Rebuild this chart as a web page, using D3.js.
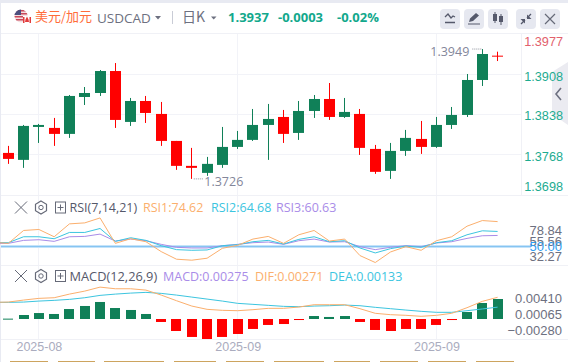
<!DOCTYPE html>
<html>
<head>
<meta charset="utf-8">
<script src="https://cdn.jsdelivr.net/npm/d3@7"></script>
<style>
  html, body { margin: 0; padding: 0; background: #fff; overflow: hidden; }
  svg { display: block; font-family: "Open Sans", "Noto Sans CJK SC", sans-serif; }
  .axis path, .axis line { display: none; }
</style>
</head>
<body>
<div id="container"></div>
<script>
// candles, oldest first. green = close above open
const open  = [1.37706,1.37584,1.38161,1.38144,1.38039,1.38686,1.38756,1.39141,1.38249,1.38616,1.38389,1.37916,1.37479,1.37356,1.37496,1.37811,1.37934,1.38196,1.38336,1.38056,1.38441,1.38651,1.38336,1.38389,1.37776,1.37391,1.37741,1.37951,1.37811,1.38196,1.38371,1.38984,1.39410]
const high  = [1.37829,1.38196,1.38214,1.38319,1.38721,1.38861,1.39159,1.39281,1.38669,1.38704,1.38599,1.37916,1.37794,1.37636,1.38161,1.38091,1.38476,1.38564,1.38459,1.38616,1.38721,1.38931,1.38669,1.38476,1.37846,1.37881,1.38109,1.38266,1.38336,1.38511,1.39089,1.39526,1.39480]
const low   = [1.37514,1.37444,1.37881,1.37829,1.37969,1.38546,1.38704,1.38144,1.38179,1.38231,1.37829,1.37409,1.37251,1.37304,1.37444,1.37776,1.37916,1.37584,1.37881,1.37934,1.38319,1.38284,1.38319,1.37671,1.37339,1.37251,1.37654,1.37689,1.37794,1.38126,1.38336,1.38879,1.39316]
const close = [1.37601,1.38179,1.38196,1.38039,1.38704,1.38756,1.39141,1.38284,1.38616,1.38406,1.37916,1.37479,1.37444,1.37514,1.37811,1.37934,1.38196,1.38301,1.38039,1.38441,1.38651,1.38336,1.38424,1.37794,1.37374,1.37741,1.37969,1.37811,1.38196,1.38371,1.38984,1.39439,1.39398]

// rsi and macd lines carry one extra value in front, the day left of the frame
const rsi1 = [53.67,52.67,65.67,66.67,59.33,72.33,73.33,78.33,52.67,57.33,54.33,44.33,36.67,35.67,37.67,47.67,50.67,57,59.67,52.67,61.33,65.67,55,57,40.33,33.33,44,49.33,45.67,55.33,59.33,70,75.67,74.62]
const rsi2 = [53.67,53.33,59.33,59.33,57.33,63.67,63.67,67.67,54.67,58.33,55.67,50.33,46.33,45.67,46,50.33,51.33,54.33,55.67,52,56.67,59.33,54.33,55.33,48,43,47.33,50,48.67,53.33,55.33,61.33,65.33,64.68]
const rsi3 = [52.67,52.67,55.67,56.33,54.67,59.33,59.67,62,55,57,55.33,51.67,48.67,48,48,50.33,51.67,53.33,54,51.67,55.33,57,54,54.33,49.33,46.33,48.67,50.33,49.33,53,54.33,57.67,60.33,60.63]
const rsiRefs = [50]

const dif = [0.00200,0.00204,0.00232,0.00256,0.00265,0.00316,0.00358,0.00414,0.00391,0.00391,0.00372,0.00302,0.00223,0.00148,0.00102,0.00088,0.00083,0.00097,0.00116,0.00116,0.00134,0.00167,0.00167,0.00167,0.00111,0.00046,0.00027,0.00018,0.00004,0.00018,0.00046,0.00125,0.00214,0.00271]
const dea = [0.00200,0.00200,0.00204,0.00218,0.00228,0.00242,0.00265,0.00298,0.00316,0.00330,0.00340,0.00326,0.00302,0.00274,0.00246,0.00218,0.00186,0.00172,0.00158,0.00144,0.00139,0.00148,0.00153,0.00162,0.00153,0.00130,0.00111,0.00092,0.00074,0.00060,0.00060,0.00083,0.00107,0.00133]
const macd = [0.00005,0.00055,0.00082,0.00069,0.00137,0.00179,0.00234,0.00151,0.00124,0.00069,-0.00041,-0.00165,-0.00247,-0.00275,-0.00247,-0.00206,-0.00137,-0.00082,-0.00069,-0.00014,0.00041,0.00028,0.00041,-0.00041,-0.00151,-0.00165,-0.00137,-0.00137,-0.00082,-0.00014,0.00096,0.00220,0.00275]

// axis labels, these sit where the chart squeezed them and not on the value scale
const priceTicks = [1.3977,1.3908,1.3838,1.3768,1.3698]
const priceTickY = [41,76,115.7,156,186]
const rsiTicks = [78.84,55.56,50,32.27]
const rsiTickY = [230,241.7,246.7,256.7]
const macdTicks = [0.0041,0.00065,-0.0028]
const macdTickY = [298.3,314.3,330.3]
const dateIndex = [2,15,28]
const dateLabels = ['2025-08','2025-09','2025-09']

const green = '#108058', red = '#ff0000', teal = '#12a88c'
const orange = '#fbaf6d', cyan = '#3cc5df', purple = '#a98ce8'
const grid = '#f2f3f8', greyText = '#6d7080'

const svg = d3.select('#container').append('svg').attr('width', 568).attr('height', 362)
svg.append('rect').attr('width', 568).attr('height', 362).attr('fill', '#fff')

const x = d3.scaleLinear().domain([0, 32]).range([8.3, 497.6])
const y = d3.scaleLinear().domain([1.3768, 1.3908]).range([154.4, 74.5])
const yRsi = d3.scaleLinear().domain([50, 74.62]).range([246, 221.6])
const yDif = d3.scaleLinear().domain([0, 0.00271]).range([316.6, 297.3])
const yMacd = d3.scaleLinear().domain([0, 0.00275]).range([319, 299])

// page edge + panel rules
svg.append('rect').attr('width', 568).attr('height', 3).attr('fill', '#e8eaf2')
svg.append('rect').attr('width', 1).attr('height', 362).attr('fill', '#e8eaf2')

svg.selectAll('.vgrid').data(dateIndex).enter().append('rect')
  .attr('x', d => Math.floor(x(d))).attr('y', 34).attr('width', 1).attr('height', 305).attr('fill', grid)
svg.selectAll('.hgrid').data([1.3908, 1.3838, 1.3768]).enter().append('rect')
  .attr('x', 1).attr('y', d => Math.floor(y(d))).attr('width', 520).attr('height', 1).attr('fill', grid)
;[33, 195, 265, 339].forEach(r => {
  svg.append('rect').attr('x', 1).attr('y', r).attr('width', 567).attr('height', 1).attr('fill', '#f0f1f6')
})
svg.append('rect').attr('x', 521).attr('y', 34).attr('width', 1).attr('height', 161).attr('fill', '#f0f1f6')

// side handle, the price labels run over it
svg.append('path').attr('d', 'M568 62L552 72V114L568 125Z').attr('fill', '#ebebf1')
svg.append('path').attr('d', 'M561 88L556 94L561 100').attr('fill', 'none').attr('stroke', '#6d7080').attr('stroke-width', 1.6)

// candles
const candles = svg.selectAll('.candle').data(d3.range(open.length)).enter().append('g').attr('class', 'candle')
candles.append('rect')
  .attr('x', i => Math.floor(x(i)))
  .attr('y', i => y(high[i]))
  .attr('width', 1)
  .attr('height', i => y(low[i]) - y(high[i]))
  .attr('fill', i => close[i] >= open[i] ? green : red)
candles.append('rect')
  .attr('x', i => Math.round(x(i) - 5.5))
  .attr('y', i => y(Math.max(open[i], close[i])))
  .attr('width', 11)
  .attr('height', i => Math.max(1, Math.abs(y(open[i]) - y(close[i]))))
  .attr('fill', i => close[i] >= open[i] ? green : red)

// high / low markers
const lowIdx = d3.minIndex(low), highIdx = d3.maxIndex(high)
svg.append('line').attr('x1', x(lowIdx) + 2).attr('x2', x(lowIdx) + 11)
  .attr('y1', y(low[lowIdx])).attr('y2', y(low[lowIdx]))
  .attr('stroke', '#8d909c').attr('stroke-dasharray', '1,1')
svg.append('text').attr('x', x(lowIdx) + 12.5).attr('y', y(low[lowIdx]) + 7)
  .attr('font-size', 12.5).attr('fill', '#83869a').text('1.3726')
svg.append('line').attr('x1', x(highIdx) - 10).attr('x2', x(highIdx) - 1)
  .attr('y1', y(high[highIdx])).attr('y2', y(high[highIdx]))
  .attr('stroke', '#8d909c').attr('stroke-dasharray', '1,1')
svg.append('text').attr('x', x(highIdx) - 13).attr('y', y(high[highIdx]) + 7)
  .attr('text-anchor', 'end').attr('font-size', 12.5).attr('fill', '#83869a').text('1.3949')

// rsi panel
const lineX = (d, i) => x(i - 1)
const lineRsi = d3.line().x(lineX).y(d => yRsi(d))
rsiRefs.forEach(v => {
  svg.append('rect').attr('x', 1).attr('y', yRsi(v) - 1).attr('width', 530).attr('height', 3).attr('fill', '#c4e3f9')
  svg.append('rect').attr('x', 1).attr('y', yRsi(v)).attr('width', 530).attr('height', 1).attr('fill', '#86c4f2')
})
;[[rsi3, purple], [rsi2, cyan], [rsi1, orange]].forEach(s => {
  svg.append('path').attr('d', lineRsi(s[0])).attr('fill', 'none').attr('stroke', s[1]).attr('stroke-width', 1)
})

// macd panel
svg.selectAll('.hist').data(macd).enter().append('rect').attr('class', 'hist')
  .attr('x', (d, i) => Math.round(x(i) - 5))
  .attr('y', d => Math.min(yMacd(0), yMacd(d)))
  .attr('width', 10)
  .attr('height', d => Math.max(1, Math.abs(yMacd(d) - yMacd(0))))
  .attr('fill', d => d >= 0 ? green : red)
const lineMacd = d3.line().x(lineX).y(d => yDif(d))
svg.append('path').attr('d', lineMacd(dea)).attr('fill', 'none').attr('stroke', cyan).attr('stroke-width', 1)
svg.append('path').attr('d', lineMacd(dif)).attr('fill', 'none').attr('stroke', orange).attr('stroke-width', 1)

// axes
const priceAxis = d3.scaleOrdinal().domain(priceTicks).range(priceTickY)
svg.append('g').attr('class', 'axis').attr('transform', 'translate(563,0)')
  .call(d3.axisLeft(priceAxis).tickValues(priceTicks).tickSize(0).tickPadding(0).tickFormat(d3.format('.4f')))
  .call(g => g.selectAll('text').attr('font-size', 12.7).attr('font-family', 'inherit')
    .attr('fill', (d, i) => i === 0 ? '#e2606c' : '#1dab90'))

const rsiAxis = d3.scaleOrdinal().domain(rsiTicks).range(rsiTickY)
svg.append('g').attr('class', 'axis').attr('transform', 'translate(562,0)')
  .call(d3.axisLeft(rsiAxis).tickValues(rsiTicks).tickSize(0).tickPadding(0).tickFormat(d3.format('.2f')))
  .call(g => g.selectAll('text').attr('font-size', 13).attr('font-family', 'inherit')
    .attr('fill', d => d === 50 ? '#2f9cf2' : greyText))

const macdAxis = d3.scaleOrdinal().domain(macdTicks).range(macdTickY)
svg.append('g').attr('class', 'axis').attr('transform', 'translate(562,0)')
  .call(d3.axisLeft(macdAxis).tickValues(macdTicks).tickSize(0).tickPadding(0).tickFormat(d3.format('.5f')))
  .call(g => g.selectAll('text').attr('font-size', 13).attr('font-family', 'inherit').attr('fill', greyText))

svg.append('g').attr('class', 'axis').attr('transform', 'translate(0,342)')
  .call(d3.axisBottom(x).tickValues(dateIndex).tickSize(0).tickPadding(0).tickFormat((d, i) => dateLabels[i]))
  .call(g => g.selectAll('text').attr('font-size', 12.5).attr('font-family', 'inherit').attr('fill', '#aaacbe'))

// legends
function label(px, py, str, color, size, weight) {
  return svg.append('text').attr('x', px).attr('y', py).attr('font-size', size || 12.5)
    .attr('font-weight', weight || 400).attr('fill', color).text(str)
}
function panelIcons(cy) {
  const g = svg.append('g').attr('fill', 'none').attr('stroke', '#666a78')
  g.append('path').attr('d', `M15 ${cy - 6}L27 ${cy + 6}M27 ${cy - 6}L15 ${cy + 6}`)
  g.append('path').attr('d', `M41 ${cy - 6.5}L46.5 ${cy - 3.2}V${cy + 3.2}L41 ${cy + 6.5}L35.5 ${cy + 3.2}V${cy - 3.2}Z`).attr('stroke-width', 1.2)
  g.append('circle').attr('cx', 41).attr('cy', cy).attr('r', 2.2)
  g.append('rect').attr('x', 55.5).attr('y', cy - 5.5).attr('width', 10).attr('height', 11)
  g.append('path').attr('d', `M57.5 ${cy}H63.5M60.5 ${cy - 3}V${cy + 3}`)
}
panelIcons(207.5)
label(69.5, 212, 'RSI(7,14,21)', '#55586a')
label(143, 212, 'RSI1:74.62', orange)
label(211, 212, 'RSI2:64.68', cyan)
label(276, 212, 'RSI3:60.63', purple)
panelIcons(276)
label(69.5, 281, 'MACD(12,26,9)', '#55586a', 12.8)
label(163, 281, 'MACD:0.00275', purple)
label(255, 281, 'DIF:0.00271', orange)
label(329, 281, 'DEA:0.00133', cyan)

// header
const defs = svg.append('defs')
defs.append('clipPath').attr('id', 'usClip').append('circle').attr('cx', 21).attr('cy', 16).attr('r', 6.5)
const us = svg.append('g').attr('clip-path', 'url(#usClip)')
us.append('rect').attr('x', 14).attr('y', 9).attr('width', 14).attr('height', 14).attr('fill', '#f3dfe0')
d3.range(0, 4).forEach(k => {
  us.append('rect').attr('x', 14).attr('y', 10 + k * 3).attr('width', 14).attr('height', 1.5).attr('fill', '#c9485a')
})
us.append('rect').attr('x', 14).attr('y', 9).attr('width', 7).attr('height', 6).attr('fill', '#4b4f7e')
svg.append('rect').attr('x', 23).attr('y', 16).attr('width', 8).attr('height', 7).attr('fill', '#fff')
svg.append('rect').attr('x', 23).attr('y', 17).attr('width', 1.5).attr('height', 6).attr('fill', '#e23b3b')
svg.append('rect').attr('x', 29.5).attr('y', 17).attr('width', 1.5).attr('height', 6).attr('fill', '#e23b3b')
svg.append('path').attr('d', 'M27 16.5L28.5 19.5L29 22H25L25.5 19.5Z').attr('fill', '#e23b3b')

label(35, 21, '美元/加元', '#ff6d3a', 13).attr('font-family', '"Noto Sans CJK SC"')
label(97, 23, 'USDCAD', '#6d7080', 13.5)
svg.append('path').attr('d', 'M155 16H161L158 19.5Z').attr('fill', '#6d7080')
svg.append('rect').attr('x', 172).attr('y', 11).attr('width', 1).attr('height', 13).attr('fill', '#c9ccd6')
label(182, 21.5, '日K', '#6d7080', 14).attr('font-family', '"Noto Sans CJK SC"')
svg.append('path').attr('d', 'M211 16.5H216.5L213.7 19.5Z').attr('fill', '#6d7080')
label(228, 21.5, '1.3937', teal, 13, 700)
label(278, 21.5, '-0.0003', teal, 13, 700)
label(337, 21.5, '-0.02%', teal, 13, 700)

// toolbar buttons
const btnIcon = '#55596b'
const buttons = [440, 464, 488, 516, 540]
svg.selectAll('.btn').data(buttons).enter().append('rect')
  .attr('x', d => d).attr('y', 9).attr('width', 20).attr('height', 20).attr('rx', 4).attr('fill', '#e6e8f0')
svg.append('path').attr('d', 'M445 17L448 14L451 18L453 16L455 17M445 22.5H455').attr('fill', 'none').attr('stroke', btnIcon).attr('stroke-width', 1.3)
svg.append('path').attr('d', 'M469 22L470 18.5L476 13L479 15.5L473 21ZM468 23.5H480V24.5H468Z').attr('fill', btnIcon)
svg.append('path').attr('d', 'M493 14h4v7h-4zM494.5 12h1v11h-1zM499 16h4v6h-4zM500.5 14h1v11h-1z').attr('fill', btnIcon)
svg.append('path').attr('d', 'M521 24L525 20M531 14L527 18').attr('stroke', btnIcon).attr('stroke-width', 1.3)
svg.append('path').attr('d', 'M527 14.5V19H531.5ZM525 23.5V19H520.5Z').attr('fill', btnIcon)
svg.append('path').attr('d', 'M545 14L555 24M555 14L545 24').attr('stroke', '#666a78').attr('stroke-width', 1.2)

// page element peeking in under the chart
const tabs = [[10,48],[58,95],[104,164],[174,216],[226,264],[274,324],[334,370],[380,418],[428,466],[476,514]]
svg.selectAll('.tab').data(tabs).enter().append('rect')
  .attr('x', d => d[0]).attr('y', 361).attr('width', d => d[1] - d[0]).attr('height', 1).attr('fill', '#cda45f')
</script>
</body>
</html>
